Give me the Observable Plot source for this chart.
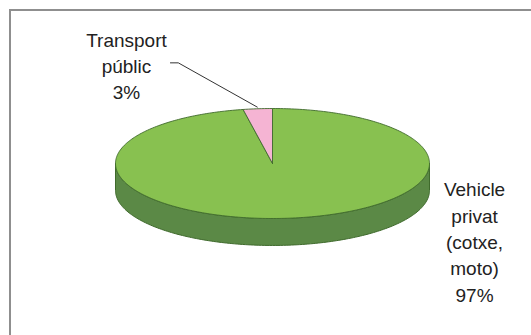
<!DOCTYPE html>
<html><head><meta charset="utf-8">
<script src="https://cdn.jsdelivr.net/npm/d3@7"></script>
<script src="https://cdn.jsdelivr.net/npm/@observablehq/plot@0.6"></script>
<style>
html,body{margin:0;padding:0;background:#fff;}
#wrap{position:relative;width:531px;height:335px;overflow:hidden;background:#fff;}
#frame{position:absolute;left:9px;top:9px;width:560px;height:400px;border-top:2px solid #8f8f8f;border-left:2px solid #8f8f8f;}
#chart{position:absolute;left:0;top:0;}
</style></head><body>
<div id="wrap"><div id="frame"></div><div id="chart"></div></div>
<script>
// Data
const categories = ["Vehicle\nprivat\n(cotxe,\nmoto)", "Transport\npúblic"];
const values = [97, 3];
const colors = ["#88c150", "#f5b4d3"];
const wallColors = ["#5b8946", "#c07f9c"];

// Layout constants (unit ellipse coordinates)
const depth = 0.49;
const edge = "#3f6a2c";

const total = d3.sum(values);
const toRad = d => d * Math.PI / 180;
const pt = (deg, r = 1, dz = 0) => ({x: r * Math.sin(toRad(deg)), y: -r * Math.cos(toRad(deg)) + dz});
const arc = (a0, a1, dz = 0) => {
  const n = Math.max(2, Math.ceil(Math.abs(a1 - a0)));
  return d3.range(n + 1).map(i => pt(a0 + (a1 - a0) * i / n, 1, dz));
};

// slices, clockwise from 12 o'clock
let acc = 0;
const slices = values.map((v, i) => {
  const a0 = acc / total * 360; acc += v; const a1 = acc / total * 360;
  return {i, a0, a1, mid: (a0 + a1) / 2, label: categories[i] + "\n" + v + "%"};
});

const marks = [];
// side walls (front half 90..270 deg)
for (const s of slices) {
  const lo = Math.max(s.a0, 90), hi = Math.min(s.a1, 270);
  if (hi > lo) {
    const poly = [...arc(lo, hi, 0), ...arc(hi, lo, depth)];
    poly.push(poly[0]);
    marks.push(Plot.line(poly, {x: "x", y: "y", fill: wallColors[s.i], stroke: edge, strokeWidth: 1}));
  }
}
// top faces
for (const s of slices) {
  const poly = [{x: 0, y: 0}, ...arc(s.a0, s.a1, 0), {x: 0, y: 0}];
  marks.push(Plot.line(poly, {x: "x", y: "y", fill: colors[s.i], stroke: edge, strokeWidth: 0.9}));
}
// leader line for small slice
const small = slices[1];
const tip = pt(small.mid, 1.03);
marks.push(Plot.line([{x: -0.65, y: -1.83}, {x: -0.60, y: -1.83}, tip], {x: "x", y: "y", stroke: "#333", strokeWidth: 1}));

// labels
const labelPos = [{x: 1.287, y: 1.40}, {x: -0.93, y: -1.80}];
marks.push(Plot.text(slices.map(s => ({...labelPos[s.i], label: s.label})), {
  x: "x", y: "y", text: "label", fontSize: 19, lineHeight: 1.39, fill: "#222",
  fontFamily: "'Liberation Sans', Arial, sans-serif", textAnchor: "middle"
}));

const chart = Plot.plot({
  width: 531, height: 335, margin: 0,
  x: {domain: [-1, 1], range: [115, 429], axis: null},
  y: {domain: [-1, 1], range: [108, 218], axis: null},
  style: {background: "transparent", overflow: "visible"},
  marks
});
document.getElementById("chart").appendChild(chart);
</script>
</body></html>
